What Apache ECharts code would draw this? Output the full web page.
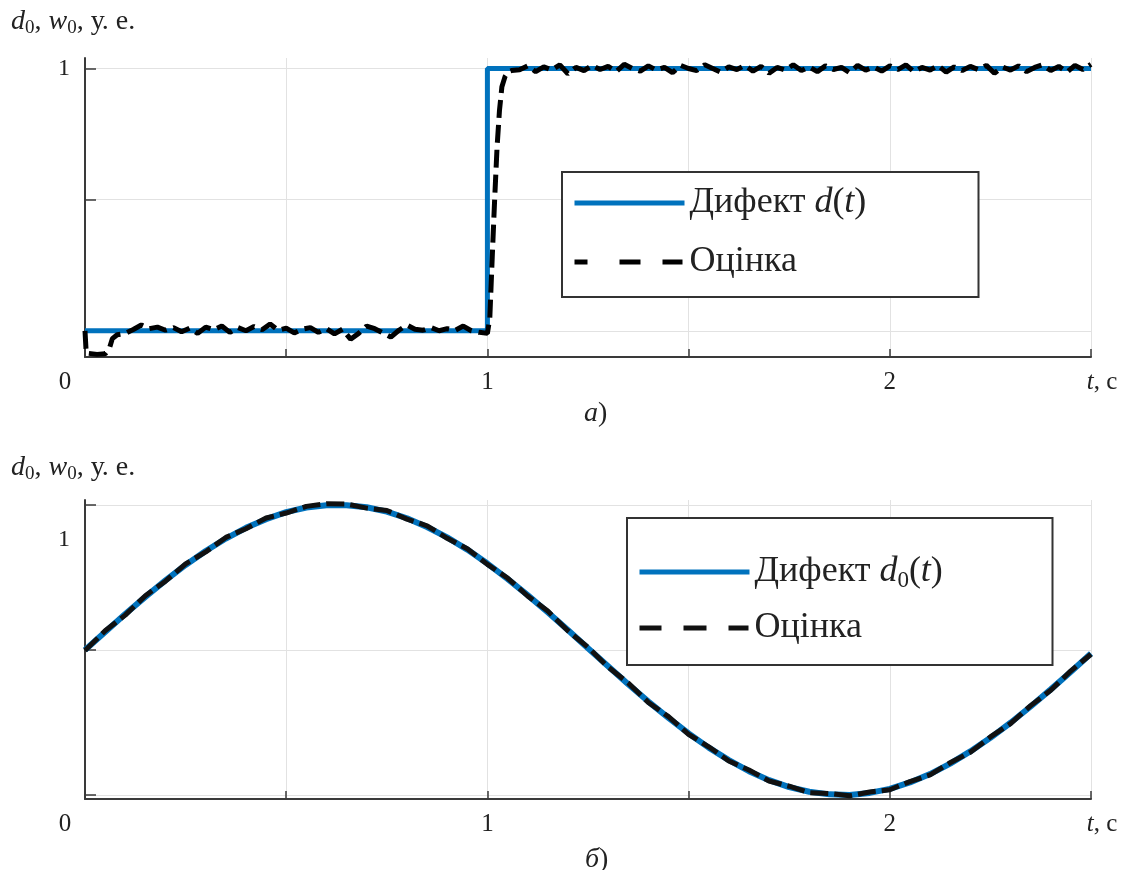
<!DOCTYPE html>
<html><head><meta charset="utf-8">
<script src="https://cdn.jsdelivr.net/npm/echarts@6/dist/echarts.min.js"></script>
<style>html,body{margin:0;padding:0;background:#fff}#c{width:1131px;height:870px}</style>
</head><body><div id="c"></div>
<script>
// ---- data ----
const yTickValues = [0, 0.5, 1];
const yLabelTop = [1];
const yLabelBottom = [0.879];      // printed as "1" (position as in the picture)
const stepT = [0, 1, 1, 2.5];      // defect d(t), top panel
const stepD = [0, 0, 1, 1];
const estTop = [
[0,0.0],[0.003,-0.085],[0.03,-0.09],[0.05,-0.088],[0.06,-0.07],[0.068,-0.03],[0.08,-0.015],[0.10,-0.01],
[0.12,0.005],[0.14,0.022],[0.16,0.008],[0.18,0.014],[0.20,0.002],[0.22,0.012],[0.24,-0.004],[0.26,0.010],
[0.28,-0.010],[0.30,0.014],[0.32,0.004],[0.34,0.018],[0.36,-0.006],[0.38,0.012],[0.40,0.000],[0.42,0.016],
[0.44,0.004],[0.46,0.026],[0.48,0.002],[0.50,0.010],[0.52,-0.008],[0.54,0.006],[0.56,0.012],[0.58,-0.006],
[0.60,0.008],[0.62,-0.012],[0.64,0.006],[0.66,-0.032],[0.68,-0.010],[0.70,0.018],[0.72,0.008],[0.74,-0.008],
[0.76,-0.024],[0.78,0.002],[0.80,0.022],[0.82,0.006],[0.84,0.002],[0.86,0.012],[0.88,0.000],[0.90,0.008],
[0.92,0.002],[0.94,0.018],[0.96,0.000],[0.98,-0.006],[1.00,-0.010],
[1.006,0.05],[1.012,0.28],[1.018,0.50],[1.024,0.70],[1.030,0.84],[1.036,0.93],[1.044,0.97],[1.052,0.988],[1.06,0.992],
[1.08,0.995],[1.10,1.010],[1.12,0.988],[1.14,1.006],[1.16,0.994],[1.18,1.014],[1.20,0.980],[1.22,1.004],
[1.24,0.992],[1.26,1.012],[1.28,0.996],[1.30,1.008],[1.32,0.988],[1.34,1.016],[1.36,1.000],[1.38,0.990],
[1.40,1.010],[1.42,0.994],[1.44,1.004],[1.46,0.984],[1.48,1.012],[1.50,1.000],[1.52,0.992],[1.54,1.014],
[1.56,1.000],[1.58,0.986],[1.60,1.006],[1.62,0.996],[1.64,1.012],[1.66,0.990],[1.68,1.008],[1.70,0.982],
[1.72,1.004],[1.74,0.994],[1.76,1.014],[1.78,0.992],[1.80,1.006],[1.82,0.988],[1.84,1.010],[1.86,0.996],
[1.88,1.004],[1.90,0.984],[1.92,1.012],[1.94,0.994],[1.96,1.006],[1.98,0.990],[2.00,1.010],[2.02,0.996],
[2.04,1.014],[2.06,0.988],[2.08,1.004],[2.10,0.994],[2.12,1.012],[2.14,0.986],[2.16,1.006],[2.18,0.992],
[2.20,1.008],[2.22,0.996],[2.24,1.012],[2.26,0.982],[2.28,1.006],[2.30,0.994],[2.32,1.010],[2.34,0.988],
[2.36,1.004],[2.38,1.014],[2.40,0.992],[2.42,1.008],[2.44,0.986],[2.46,1.012],[2.48,0.996],[2.50,1.016]
];
const tB = [0,0.05,0.10,0.15,0.20,0.25,0.30,0.35,0.40,0.45,0.50,0.55,0.60,0.65,0.70,0.75,0.80,0.85,0.90,0.95,
1.00,1.05,1.10,1.15,1.20,1.25,1.30,1.35,1.40,1.45,1.50,1.55,1.60,1.65,1.70,1.75,1.80,1.85,1.90,1.95,
2.00,2.05,2.10,2.15,2.20,2.25,2.30,2.35,2.40,2.45,2.50];
const dB = [0.500,0.562,0.624,0.683,0.740,0.793,0.841,0.884,0.921,0.951,0.975,0.991,0.999,0.999,0.992,0.977,0.954,0.924,0.888,0.846,
0.798,0.745,0.689,0.630,0.569,0.506,0.444,0.382,0.322,0.266,0.212,0.163,0.120,0.082,0.051,0.027,0.011,0.002,0.000,0.007,
0.021,0.043,0.072,0.108,0.150,0.197,0.249,0.305,0.364,0.425,0.488];
const eB = [0.498,0.566,0.620,0.687,0.737,0.797,0.838,0.888,0.918,0.955,0.972,0.995,1.004,1.003,0.989,0.981,0.951,0.928,0.885,0.849,
0.795,0.748,0.686,0.634,0.566,0.509,0.441,0.386,0.319,0.270,0.209,0.166,0.117,0.086,0.048,0.030,0.008,0.005,-0.003,0.010,
0.018,0.046,0.069,0.111,0.147,0.200,0.246,0.308,0.361,0.428,0.485];

// ---- styles ----
const FF = 'Liberation Serif';
const TXT = '#222';
const AX = '#3a3a3a';
const GRID = '#e2e2e2';
const BLUE = '#0072BD';
const FS = 25;

const richBase = {
  i: {fontFamily: FF, fontStyle: 'italic', fontWeight: 'normal', fontSize: 36, color: TXT},
  n: {fontFamily: FF, fontWeight: 'normal', fontSize: 36, color: TXT},
  s: {fontFamily: FF, fontWeight: 'normal', fontSize: 23, color: TXT, verticalAlign: 'bottom'}
};

function xAxisCfg(gi) {
  return {
    type: 'value', gridIndex: gi, min: 0, max: 2.5, interval: 0.5,
    axisLine: {show: true, onZero: false, lineStyle: {color: AX, width: 2}},
    axisTick: {show: true, inside: true, length: 8, lineStyle: {color: AX, width: 1.5}},
    splitLine: {show: true, lineStyle: {color: GRID, width: 1}},
    axisLabel: {
      interval: 0, margin: 13, fontFamily: FF, fontSize: FS, color: TXT,
      showMinLabel: true, showMaxLabel: true,
      formatter: v => v === 0 ? '{o|0}' : (v === 2.5 ? '{ti|t}{tn|, с}' : (v === 1 || v === 2 ? String(v) : '')),
      rich: {
        o: {fontFamily: FF, fontSize: FS, color: TXT, padding: [0, 40, 0, 0]},
        ti: {fontFamily: FF, fontSize: FS, color: TXT, fontStyle: 'italic', padding: [0, 0, 0, 22]},
        tn: {fontFamily: FF, fontSize: FS, color: TXT}
      }
    }
  };
}
function yAxisCfg(gi, min, max, labels) {
  return {
    type: 'value', gridIndex: gi, min: min, max: max,
    axisLine: {show: true, onZero: false, lineStyle: {color: AX, width: 2}},
    axisTick: {show: true, inside: true, length: 11, customValues: yTickValues, lineStyle: {color: AX, width: 1.5}},
    splitLine: {show: true, lineStyle: {color: GRID, width: 1}},
    axisLabel: {customValues: labels, margin: 15, fontFamily: FF, fontSize: 24, color: TXT, formatter: () => '1'}
  };
}

const titleRich = {
  i: {fontFamily: FF, fontStyle: 'italic', fontWeight: 'normal', fontSize: 28, color: TXT, lineHeight: 32},
  n: {fontFamily: FF, fontWeight: 'normal', fontSize: 28, color: TXT, lineHeight: 32},
  s: {fontFamily: FF, fontWeight: 'normal', fontSize: 19, color: TXT, verticalAlign: 'bottom', lineHeight: 18}
};
const yName = '{i|d}{s|0}{n|, }{i|w}{s|0}{n|, у. е.}';

const legendText = {
  dA: 'Дифект {i|d}{n|(}{i|t}{n|)}',
  eA: 'Оцінка',
  dB: 'Дифект {i|d}{s|0}{n|(}{i|t}{n|)}',
  eB: 'Оцінка'
};
function legendCfg(left, top, padding, gap, textGap, width, names, dash, dashColor) {
  return {
    orient: 'vertical', left: left, top: top, padding: padding,
    itemWidth: 110, itemHeight: 20, itemGap: gap, itemTextGap: textGap,
    borderColor: '#333', borderWidth: 2, backgroundColor: '#fff',
    itemStyle: {color: 'rgba(0,0,0,0)', borderColor: 'rgba(0,0,0,0)', borderWidth: 0},
    lineStyle: {width: 5},
    data: [{name: names[0], lineStyle: {width: 5, color: BLUE}},
           {name: names[1], lineStyle: {width: 5, color: dashColor, type: dash}}],
    formatter: n => legendText[n],
    textStyle: {fontFamily: FF, fontSize: 36, color: TXT, lineHeight: 40, width: width, rich: richBase},
    selectedMode: false
  };
}

const chart = echarts.init(document.getElementById('c'), null, {renderer: 'canvas'});
chart.setOption({
  animation: false,
  backgroundColor: '#fff',
  title: [
    {text: yName, left: 6, top: 1, textStyle: {fontWeight: 'normal', rich: titleRich}},
    {text: yName, left: 6, top: 447, textStyle: {fontWeight: 'normal', rich: titleRich}},
    {text: '{i|а}{n|)}', left: 579, top: 393, textStyle: {fontWeight: 'normal', rich: titleRich}},
    {text: '{i|б}{n|)}', left: 580, top: 839, textStyle: {fontWeight: 'normal', rich: titleRich}}
  ],
  grid: [
    {left: 85, right: 40, top: 58, height: 299},
    {left: 85, right: 40, top: 500, height: 299}
  ],
  xAxis: [xAxisCfg(0), xAxisCfg(1)],
  yAxis: [yAxisCfg(0, -0.1, 1.04, yLabelTop), yAxisCfg(1, -0.014, 1.017, yLabelBottom)],
  legend: [
    legendCfg(562, 172, [11, 9, 15, 10], 19, 5, 280, ['dA', 'eA'], [13, 32, 21, 22, 20, 30], '#000'),
    legendCfg(627, 518, [34, 8, 17, 10], 16, 14, 290, ['dB', 'eB'], [22, 22, 23, 22, 20, 30], '#111')
  ],
  series: [
    {name: 'dA', type: 'line', xAxisIndex: 0, yAxisIndex: 0, data: stepT.map((t, i) => [t, stepD[i]]),
     symbol: 'none', color: BLUE, lineStyle: {color: BLUE, width: 5}, z: 2},
    {name: 'eA', type: 'line', xAxisIndex: 0, yAxisIndex: 0, data: estTop,
     symbol: 'none', color: '#000', lineStyle: {color: '#000', width: 5, type: [18, 7]}, z: 3},
    {name: 'dB', type: 'line', xAxisIndex: 1, yAxisIndex: 1, data: tB.map((t, i) => [t, dB[i]]),
     symbol: 'none', color: BLUE, lineStyle: {color: BLUE, width: 6}, z: 2},
    {name: 'eB', type: 'line', xAxisIndex: 1, yAxisIndex: 1, data: tB.map((t, i) => [t, eB[i]]),
     symbol: 'none', color: '#111', lineStyle: {color: '#111', width: 5, type: [18, 6]}, z: 3}
  ]
});
</script></body></html>
